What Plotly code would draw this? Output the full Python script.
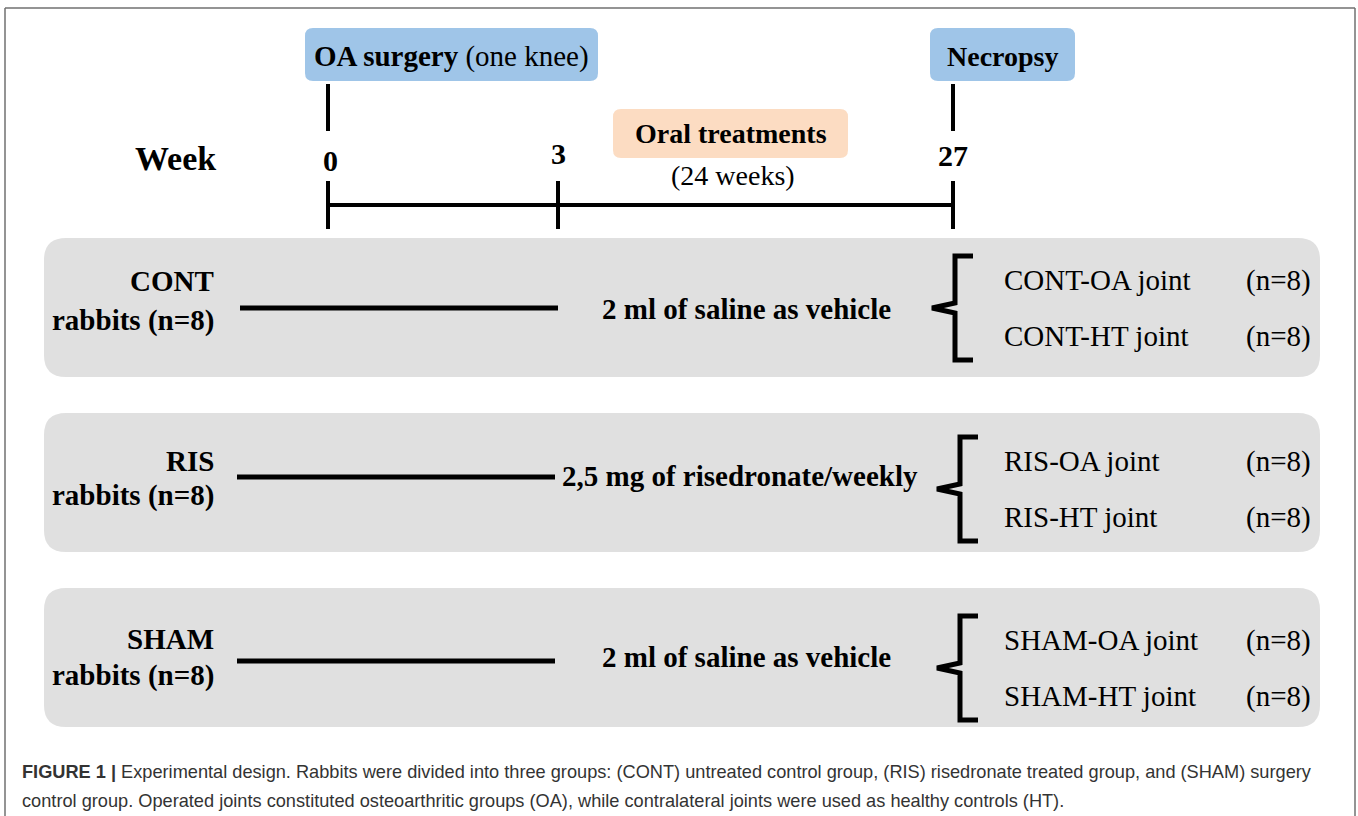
import plotly.graph_objects as go

# ---- data ----
week_labels = ["0", "3", "27"]
week_x = [328, 558, 953]
groups = ["CONT", "RIS", "SHAM"]
group_n = [8, 8, 8]
treatments = ["2 ml of saline as vehicle", "2,5 mg of risedronate/weekly", "2 ml of saline as vehicle"]
joint_types = ["OA", "HT"]
joint_n = [[8, 8], [8, 8], [8, 8]]
events = ["<b>OA surgery</b> (one knee)", "<b>Necropsy</b>"]
caption1 = "<b>FIGURE 1 |</b> Experimental design. Rabbits were divided into three groups: (CONT) untreated control group, (RIS) risedronate treated group, and (SHAM) surgery"
caption2 = "control group. Operated joints constituted osteoarthritic groups (OA), while contralateral joints were used as healthy controls (HT)."

SERIF = "Liberation Serif, Times New Roman, serif"
W, H = 1358, 816

fig = go.Figure()
shapes = []
ann = []

def rrect(x0, y0, x1, y1, r, fill):
    p = (f"M {x0+r} {y0} L {x1-r} {y0} Q {x1} {y0} {x1} {y0+r} L {x1} {y1-r} "
         f"Q {x1} {y1} {x1-r} {y1} L {x0+r} {y1} Q {x0} {y1} {x0} {y1-r} "
         f"L {x0} {y0+r} Q {x0} {y0} {x0+r} {y0} Z")
    return dict(type="path", path=p, fillcolor=fill, line=dict(width=0), layer="below")

def line(x0, y0, x1, y1, w=4, color="black"):
    return dict(type="line", x0=x0, y0=y0, x1=x1, y1=y1, line=dict(color=color, width=w))

def text(x, y, t, size=29, anchor="center", color="black", font=SERIF):
    ann.append(dict(x=x, y=y, text=t, showarrow=False, xanchor=anchor, yanchor="middle",
                    font=dict(family=font, size=size, color=color)))

# outer border (open at the bottom)
shapes.append(line(5, 8, 1355, 8, 1.5, "#707070"))
shapes.append(line(5, 8, 5, 816, 1.5, "#707070"))
shapes.append(line(1355, 8, 1355, 816, 1.5, "#707070"))

# event boxes
shapes.append(rrect(305, 28, 598, 81, 8, "#9fc5e8"))
shapes.append(rrect(930, 28, 1075, 81, 8, "#9fc5e8"))
text(451, 56, events[0], 29)
text(1002, 56, events[1], 28)
# orange treatment box
shapes.append(rrect(613, 109, 848, 158, 8, "#fcdcc2"))
text(731, 133, "<b>Oral treatments</b>", 28)
text(733, 175, "(24 weeks)", 28)

# event tick lines
shapes.append(line(week_x[0], 84, week_x[0], 131))
shapes.append(line(week_x[2], 84, week_x[2], 131))

# week labels
text(175, 158, "<b>Week</b>", 34)
text(week_x[0] + 2, 160, f"<b>{week_labels[0]}</b>", 30)
text(week_x[1], 153, f"<b>{week_labels[1]}</b>", 30)
text(week_x[2], 155, f"<b>{week_labels[2]}</b>", 30)

# timeline
shapes.append(line(week_x[0], 205, week_x[2], 205))
for xv in week_x:
    shapes.append(line(xv, 181, xv, 229))

# group panels
panel_top = [238, 413, 588]
panel_h = 139
label_y = [(281, 320), (461, 495), (639, 675)]
line_y = [308, 477, 661]
line_x = [(240, 558), (237, 555), (237, 555)]
treat_x = [746, 740, 746]
treat_y = [309, 476, 657]
joint_y = [(280, 336), (461, 517), (640, 696)]
brace_x = [955, 960, 960]

for i, g in enumerate(groups):
    t0 = panel_top[i]
    shapes.append(rrect(44, t0, 1320, t0 + panel_h, 22, "#e0e0e0"))
    text(216, label_y[i][0], f"<b>{g}</b>", 29, anchor="right")
    text(216, label_y[i][1], f"<b>rabbits (n={group_n[i]})</b>", 29, anchor="right")
    shapes.append(line(line_x[i][0], line_y[i], line_x[i][1], line_y[i], 5))
    text(treat_x[i], treat_y[i], f"<b>{treatments[i]}</b>", 29)
    # brace
    ya, yb = joint_y[i][0] - 24, joint_y[i][1] + 24
    ym = (ya + yb) / 2
    bx = brace_x[i]
    p = (f"M {bx+18} {ya} L {bx} {ya} L {bx} {ym-5} L {bx-23} {ym} "
         f"L {bx} {ym+5} L {bx} {yb} L {bx+18} {yb}")
    shapes.append(dict(type="path", path=p, line=dict(color="black", width=5)))
    for j, jt in enumerate(joint_types):
        text(1002, joint_y[i][j], f"{g}-{jt} joint", 29, anchor="left")
        text(1313, joint_y[i][j], f"(n={joint_n[i][j]})", 29, anchor="right")

# caption
CAP = "Liberation Sans, Arial, Helvetica, sans-serif"
text(20, 772, caption1, 18.2, anchor="left", color="#333333", font=CAP)
text(20, 801, caption2, 18.2, anchor="left", color="#333333", font=CAP)

fig.update_layout(
    width=W, height=H, margin=dict(l=0, r=0, t=0, b=0),
    paper_bgcolor="white", plot_bgcolor="white",
    xaxis=dict(range=[0, W], visible=False, fixedrange=True),
    yaxis=dict(range=[H, 0], visible=False, fixedrange=True),
    shapes=shapes, annotations=ann, showlegend=False,
)
fig.write_html("out.html", config={"displayModeBar": False},
               post_script="document.body.style.margin='0';document.body.style.overflow='hidden';")
